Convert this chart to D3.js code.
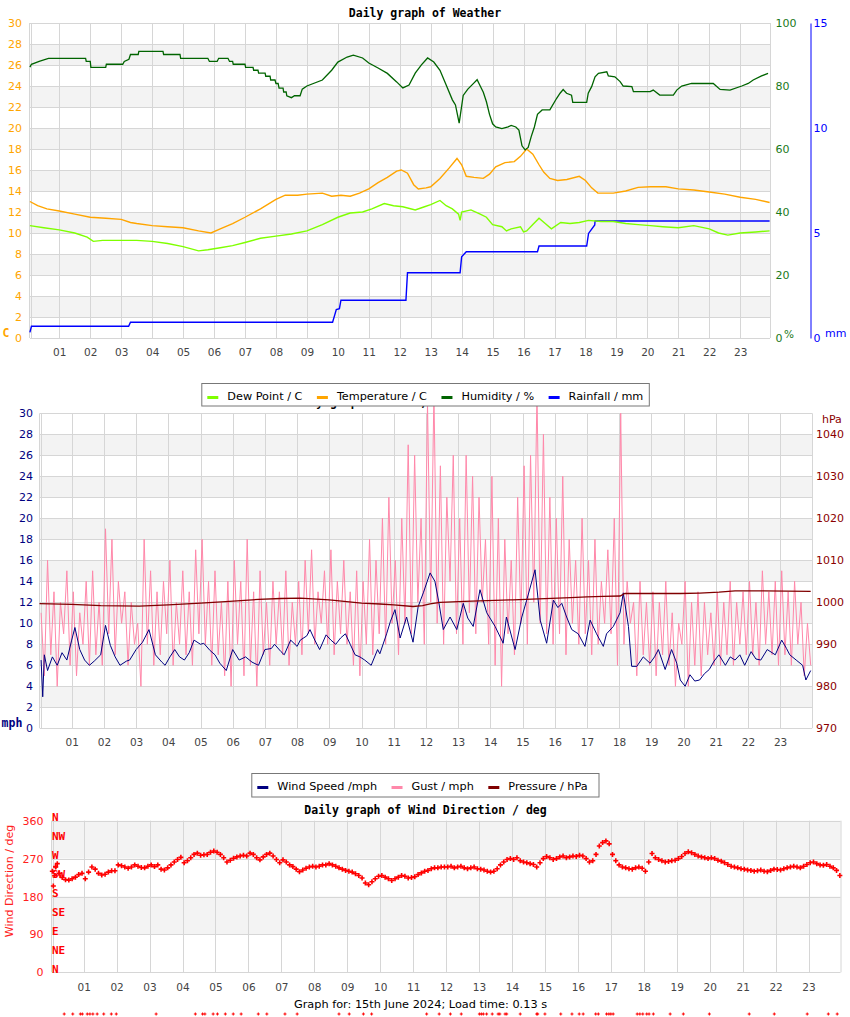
<!DOCTYPE html>
<html><head><meta charset="utf-8">
<script src="https://cdn.jsdelivr.net/npm/d3@7"></script>
<style>body{margin:0;background:#fff}svg{display:block}</style>
</head><body>
<script>
// ---------------- DATA ----------------
const hourTicks = ["01","02","03","04","05","06","07","08","09","10","11","12","13","14","15","16","17","18","19","20","21","22","23"];
const tempTicks = [0,2,4,6,8,10,12,14,16,18,20,22,24,26,28,30];
const humTicks = [0,20,40,60,80,100];
const rainTicks = [0,5,10,15];
const mphTicks = [0,2,4,6,8,10,12,14,16,18,20,22,24,26,28,30];
const hpaTicks = [970,980,990,1000,1010,1020,1030,1040];
const dirTicks = [0,90,180,270,360];
const compassLabels = ["N","NE","E","SE","S","SW","W","NW","N"];
const compassDeg = [0,45,90,135,180,225,270,315,360];

const temperature = [[0.05,13.0],[0.3,12.6],[0.6,12.3],[1.0,12.1],[1.5,11.8],[2.0,11.5],[2.5,11.4],[3.0,11.3],[3.3,11.0],[3.5,10.9],[4.0,10.7],[4.5,10.6],[5.0,10.5],[5.5,10.2],[5.9,10.0],[6.2,10.4],[6.6,10.9],[7.0,11.5],[7.5,12.3],[8.0,13.2],[8.3,13.6],[8.7,13.6],[9.0,13.7],[9.5,13.8],[9.8,13.5],[10.1,13.6],[10.4,13.5],[10.7,13.8],[11.0,14.2],[11.3,14.8],[11.6,15.3],[11.9,15.9],[12.05,16.0],[12.25,15.7],[12.45,14.6],[12.6,14.2],[12.85,14.3],[13.0,14.4],[13.3,15.2],[13.6,16.2],[13.85,17.1],[14.0,16.5],[14.15,15.4],[14.4,15.3],[14.7,15.2],[14.9,15.6],[15.1,16.3],[15.4,16.7],[15.7,16.8],[15.9,17.3],[16.1,18.0],[16.3,17.5],[16.5,16.5],[16.65,15.8],[16.85,15.2],[17.1,15.0],[17.4,15.1],[17.8,15.4],[18.0,15.0],[18.2,14.3],[18.4,13.8],[18.9,13.8],[19.3,14.0],[19.7,14.35],[20.1,14.4],[20.6,14.4],[21.0,14.2],[21.5,14.1],[22.0,13.9],[22.5,13.7],[23.0,13.4],[23.5,13.2],[23.95,12.9]];

const dewPoint = [[0.05,10.7],[0.5,10.5],[1.0,10.3],[1.5,10.0],[1.9,9.6],[2.1,9.2],[2.4,9.3],[3.0,9.3],[3.5,9.3],[4.0,9.2],[4.5,9.0],[5.0,8.7],[5.5,8.3],[5.8,8.4],[6.2,8.6],[6.6,8.8],[7.0,9.1],[7.5,9.5],[8.0,9.7],[8.5,9.9],[9.0,10.2],[9.5,10.8],[10.0,11.5],[10.4,11.9],[10.8,12.0],[11.1,12.3],[11.5,12.8],[11.8,12.6],[12.1,12.5],[12.5,12.2],[12.8,12.5],[13.0,12.7],[13.3,13.1],[13.5,12.6],[13.7,12.3],[13.9,11.8],[13.95,11.2],[14.0,12.0],[14.3,12.2],[14.6,11.8],[14.8,11.5],[15.0,10.8],[15.3,10.6],[15.45,10.2],[15.6,10.4],[15.9,10.6],[16.0,10.1],[16.1,10.2],[16.3,10.8],[16.5,11.4],[16.7,10.9],[16.9,10.4],[17.2,11.0],[17.5,10.9],[17.8,11.0],[18.1,11.2],[18.5,11.1],[18.9,11.1],[19.3,10.9],[19.7,10.8],[20.1,10.7],[20.5,10.6],[21.0,10.5],[21.5,10.7],[22.0,10.4],[22.3,10.0],[22.6,9.8],[23.0,10.0],[23.5,10.1],[23.95,10.2]];

const humidity = [[0.05,86],[0.1,86.9],[0.35,87.8],[0.65,88.8],[1.85,88.8],[1.87,87.8],[2.0,87.8],[2.02,85.9],[2.5,85.9],[2.52,86.9],[3.05,86.9],[3.1,87.8],[3.25,88.5],[3.3,90],[3.55,90],[3.57,91],[4.35,91],[4.37,90],[4.9,90],[4.92,88.8],[5.8,88.8],[5.85,87.8],[6.1,87.8],[6.15,88.8],[6.45,88.8],[6.5,87.8],[6.6,87.8],[6.62,86.9],[7.0,86.9],[7.02,85.9],[7.26,85.9],[7.28,85],[7.42,85],[7.44,84.1],[7.65,84.1],[7.67,83.1],[7.81,83.1],[7.83,81.9],[7.97,81.9],[8.0,80.8],[8.07,80.8],[8.1,79.3],[8.23,79.3],[8.25,78.1],[8.33,78.1],[8.35,76.9],[8.5,76.3],[8.6,76.9],[8.78,76.9],[8.85,79],[9.0,80],[9.5,81.9],[9.8,85],[10.0,87.6],[10.3,89.2],[10.5,89.8],[10.8,88.9],[11.0,87.3],[11.3,85.7],[11.6,84],[11.9,81.3],[12.1,79.4],[12.3,80.3],[12.5,84.1],[12.7,86.7],[12.9,88.9],[13.1,87.6],[13.3,85],[13.5,80.3],[13.7,75.6],[13.8,74],[13.92,68.2],[14.05,77],[14.2,79],[14.4,81],[14.5,82],[14.6,80],[14.7,78],[14.8,75],[14.9,71],[15.0,68],[15.1,67],[15.3,66.5],[15.5,67],[15.6,67.5],[15.75,67],[15.85,66],[15.95,61],[16.05,59.7],[16.15,60.5],[16.25,64],[16.35,67],[16.45,71],[16.6,72.4],[16.85,72.4],[17.07,76.1],[17.18,77.7],[17.28,78.9],[17.39,77.7],[17.55,77.1],[17.59,74.8],[18.04,74.8],[18.09,77.7],[18.2,79.8],[18.31,82.9],[18.42,84],[18.69,84.5],[18.74,83.2],[18.95,82.9],[19.12,81.4],[19.22,80],[19.5,79.8],[19.55,78.2],[20.09,78.2],[20.19,78.7],[20.4,77.1],[20.84,77.1],[20.95,78.7],[21.11,80],[21.43,80.8],[22.13,80.8],[22.35,78.9],[22.67,78.7],[23.05,80],[23.26,80.8],[23.42,81.9],[23.69,83.2],[23.9,84]];

const rainfall = [[0.05,0.27],[0.1,0.56],[3.24,0.56],[3.3,0.75],[9.83,0.75],[9.9,1.1],[9.95,1.35],[10.05,1.4],[10.1,1.8],[12.2,1.8],[12.25,3.11],[13.95,3.11],[14.0,3.87],[14.15,4.11],[16.45,4.11],[16.5,4.38],[18.04,4.38],[18.1,4.98],[18.3,5.38],[18.31,5.57],[23.95,5.57]];

const windSpeed = [[0.05,6.5],[0.1,3.0],[0.15,7.0],[0.25,5.5],[0.4,6.8],[0.55,6.0],[0.7,7.2],[0.85,6.5],[1.0,8.4],[1.1,9.6],[1.25,7.5],[1.4,6.5],[1.55,6.0],[1.7,6.4],[1.9,7.0],[2.05,9.8],[2.2,7.9],[2.35,6.8],[2.5,6.0],[2.7,6.4],[2.8,6.5],[3.0,7.5],[3.2,8.2],[3.4,9.4],[3.6,7.0],[3.8,6.3],[3.9,6.0],[4.05,6.8],[4.2,7.5],[4.35,6.8],[4.5,6.5],[4.65,7.2],[4.8,8.4],[5.0,8.0],[5.1,8.1],[5.3,7.4],[5.45,7.0],[5.6,6.2],[5.8,5.5],[6.0,7.5],[6.2,6.5],[6.4,6.8],[6.6,6.3],[6.8,6.0],[7.0,7.5],[7.2,7.6],[7.3,8.0],[7.5,7.3],[7.6,7.0],[7.8,8.4],[8.0,7.8],[8.1,8.4],[8.3,8.8],[8.4,9.4],[8.55,8.4],[8.7,7.5],[8.9,8.9],[9.05,8.4],[9.2,8.0],[9.35,8.6],[9.5,9.0],[9.65,8.0],[9.8,7.0],[9.95,6.8],[10.1,6.5],[10.3,6.0],[10.5,7.5],[10.57,7.1],[10.78,9.0],[10.9,10.2],[11.04,11.3],[11.2,8.6],[11.4,10.6],[11.6,8.2],[11.76,11.6],[11.92,12.9],[12.13,14.8],[12.28,14.0],[12.39,12.2],[12.54,9.4],[12.75,10.6],[12.96,9.4],[13.16,11.9],[13.3,10.5],[13.47,9.7],[13.68,13.2],[13.89,11.0],[14.15,9.7],[14.4,8.1],[14.5,10.6],[14.77,7.5],[14.98,10.6],[15.13,12.2],[15.39,15.1],[15.55,10.3],[15.75,8.1],[15.96,12.2],[16.1,11.5],[16.22,11.9],[16.37,10.6],[16.53,9.4],[16.73,9.0],[16.94,7.8],[17.1,10.3],[17.3,9.0],[17.51,7.8],[17.61,9.0],[17.82,9.7],[18.03,11.0],[18.13,12.9],[18.29,9.7],[18.39,5.9],[18.55,5.9],[18.75,6.8],[18.96,6.2],[19.1,6.8],[19.22,7.5],[19.43,5.6],[19.63,7.5],[19.79,6.2],[19.9,4.6],[20.05,4.0],[20.2,5.1],[20.35,4.5],[20.5,4.6],[20.65,5.2],[20.8,5.6],[20.95,6.4],[21.1,7.0],[21.3,6.0],[21.45,6.8],[21.6,6.5],[21.75,7.0],[21.9,6.0],[22.1,7.3],[22.25,6.6],[22.4,6.5],[22.6,7.5],[22.85,7.0],[23.05,8.4],[23.2,7.6],[23.3,7.0],[23.5,6.5],[23.7,6.0],[23.8,4.6],[23.95,5.5]];

// gust, one reading every 0.1 h starting 00:03
const gustStart = 0.05, gustStep = 0.1;
const gust = [
 11,5,16,7,13,4,12,9,15,6,
 13,5,11,8,14,6,15,7,12,6,
 19,9,18,7,14,10,13,6,12,8,
 10,4,18,8,15,6,13,7,14,9,
 16,6,12,8,15,7,13,6,17,9,
 18,8,14,6,15,7,12,5,14,4,
 16,8,14,5,18,6,13,4,15,7,
 12,6,14,8,13,7,15,6,12,8,
 14,7,16,9,17,8,13,10,15,8,
 17,7,14,9,16,8,13,6,15,5,
 14,8,18,7,16,9,20,8,22,10,
 16,7,20,10,27,9,26,12,20,8,
 31,12,32,10,25,8,22,14,26,9,
 20,8,26,11,24,9,22,12,18,8,
 24,6,20,4,18,9,16,7,22,10,
 25,8,26,12,32,10,28,9,22,8,
 20,9,24,7,18,10,16,8,20,9,
 16,7,18,8,14,10,17,9,20,6,
 30,8,14,10,12,5,14,7,12,6,
 13,5,12,7,14,6,11,4,10,8,
 14,4,12,6,13,5,12,7,11,6,
 13,6,12,7,14,6,12,8,13,7,
 14,7,12,6,15,8,13,7,14,6,
 15,7,13,6,14,8,12,5,10,6];

const pressure = [[0.0,999.7],[1.0,999.5],[1.9,999.2],[3.1,999.1],[4.0,999.4],[5.0,999.8],[5.9,1000.2],[6.8,1000.7],[7.5,1000.9],[8.1,1001.0],[9.0,1000.6],[10.0,999.8],[10.57,999.6],[11.0,999.4],[11.6,999.0],[11.9,999.2],[12.13,999.6],[12.44,1000.0],[13.2,1000.2],[13.9,1000.4],[14.7,1000.6],[15.5,1000.8],[16.5,1001.1],[17.0,1001.3],[17.5,1001.4],[18.03,1001.5],[18.18,1002.1],[19.0,1002.1],[19.9,1002.1],[20.5,1002.2],[21.1,1002.4],[21.6,1002.7],[22.5,1002.7],[23.95,1002.6]];

// wind direction, one reading every 0.1 h starting 00:03
const dirStart = 0.05, dirStep = 0.1;
const direction = [
 240,250,235,225,220,219,222,226,232,235,
 222,238,250,245,235,231,233,238,241,241,
 255,253,250,247,250,255,252,249,248,252,
 255,251,255,245,243,248,255,262,268,273,
 260,265,272,280,283,278,279,280,285,288,
 285,280,272,262,266,271,274,276,278,276,
 283,280,272,267,274,280,283,276,268,260,
 267,262,255,251,245,239,243,247,250,252,
 250,252,255,255,258,255,252,248,245,242,
 240,238,234,230,224,212,208,215,222,228,
 230,226,222,218,222,226,230,228,224,225,
 227,232,236,240,242,246,248,248,250,250,
 250,252,248,250,252,248,246,248,250,246,
 245,243,240,238,240,246,255,262,268,270,
 268,272,265,262,260,258,256,250,260,270,
 275,272,268,270,274,276,272,274,276,275,
 278,276,270,262,265,280,300,308,312,305,
 280,265,255,250,248,246,245,248,250,247,
 240,262,282,272,268,265,262,263,265,266,
 270,275,282,286,284,280,276,274,272,270,
 272,270,266,264,260,256,252,250,248,246,
 245,243,242,240,241,243,240,239,242,245,
 244,243,246,248,250,252,250,248,252,256,
 260,262,258,255,254,256,252,248,242,230];
const directionExtra = [[0.08,205],[0.15,251],[0.2,258],[0.12,230]];
const calmHours = [0.41,0.67,0.90,0.96,1.11,1.19,1.28,1.41,1.61,1.84,1.99,3.20,4.39,4.61,4.68,4.93,5.06,5.30,5.54,5.78,6.30,6.56,7.11,7.48,8.75,9.06,9.49,9.74,11.41,11.79,12.13,12.46,13.01,13.07,13.13,13.23,13.40,13.58,13.63,13.79,13.84,14.25,14.75,14.78,15.0,15.48,15.82,16.04,16.16,16.54,16.62,16.87,16.94,17.0,17.07,17.80,17.88,17.97,18.09,18.16,18.29,18.80,19.20,19.99,21.20,21.96,22.96,23.60,23.87];

const legend1 = [["Dew Point / C","#7fff00"],["Temperature / C","#ffa500"],["Humidity / %","#006400"],["Rainfall / mm","#0000ff"]];
const legend2 = [["Wind Speed /mph","#000080"],["Gust / mph","#ff88aa"],["Pressure / hPa","#800000"]];

// ---------------- DRAWING ----------------
const SANS = "DejaVu Sans, sans-serif", MONO = "DejaVu Sans Mono, monospace";
const GRID = "#d6d6d6", BAND = "#f3f3f3";
const svg = d3.select("body").append("svg").attr("width",850).attr("height",1017);
const hourVals = hourTicks.map(Number);

function frame(x, y, left, right, ticks){
  const g = svg.append("g");
  const top = y.range()[1], bottom = y.range()[0];
  const bands = ticks.map((v,i)=>[v,ticks[i+1]]).filter((d,i)=>i%2===1 && d[1]!==undefined);
  g.selectAll(null).data(bands).join("rect")
    .attr("x",left).attr("width",right-left)
    .attr("y",d=>y(d[1])).attr("height",d=>y(d[0])-y(d[1])).attr("fill",BAND);
  g.selectAll(null).data(ticks).join("line")
    .attr("x1",left).attr("x2",right).attr("y1",d=>Math.round(y(d))+0.5).attr("y2",d=>Math.round(y(d))+0.5)
    .attr("stroke",GRID);
  g.selectAll(null).data(hourVals).join("line")
    .attr("x1",d=>Math.round(x(d))+0.5).attr("x2",d=>Math.round(x(d))+0.5)
    .attr("y1",top).attr("y2",bottom).attr("stroke",GRID);
  g.append("line").attr("x1",left-0.5).attr("x2",left-0.5).attr("y1",top).attr("y2",bottom).attr("stroke",GRID);
  g.append("line").attr("x1",left+1.5).attr("x2",left+1.5).attr("y1",top).attr("y2",bottom).attr("stroke",GRID);
  g.append("line").attr("x1",right+0.5).attr("x2",right+0.5).attr("y1",top).attr("y2",bottom).attr("stroke",GRID);
  return g;
}
function xAxis(x, yPos){
  const g = svg.append("g").attr("transform",`translate(0,${yPos})`)
    .call(d3.axisBottom(x).tickValues(hourVals).tickFormat((d,i)=>hourTicks[i]).tickSize(0).tickPadding(0));
  g.select(".domain").remove();
  g.selectAll("text").attr("fill","#444").style("font-family",SANS).style("font-size","10.5px");
}
function yAxis(axis, xPos, color, keepDomain){
  const g = svg.append("g").attr("transform",`translate(${xPos},0)`).call(axis.tickFormat(d3.format("d")));
  if(!keepDomain) g.select(".domain").remove(); else g.select(".domain").attr("stroke",color);
  g.selectAll(".tick line").remove();
  g.selectAll("text").attr("fill",color).style("font-family",SANS).style("font-size","11px");
  return g;
}
function txt(x,y,s,opt){
  const t = svg.append("text").attr("x",x).attr("y",y).text(s)
    .style("font-family",opt.font||SANS).style("font-size",(opt.size||11)+"px")
    .attr("fill",opt.fill||"#000").attr("text-anchor",opt.anchor||"start")
    .attr("dominant-baseline","central");
  if(opt.bold) t.style("font-weight","bold");
  return t;
}
function legend(items, x0, yMid, boxRight, boxTop, boxH){
  const g = svg.append("g");
  const box = g.append("rect").attr("y",boxTop).attr("height",boxH).attr("fill","#fff").attr("stroke","#777");
  let x = x0;
  items.forEach(([name,col])=>{
    g.append("line").attr("x1",x).attr("x2",x+11).attr("y1",yMid+1).attr("y2",yMid+1).attr("stroke",col).attr("stroke-width",3);
    const t = g.append("text").attr("x",x+20).attr("y",yMid).text(name).attr("dominant-baseline","central")
      .style("font-family",SANS).style("font-size","11.25px").attr("fill","#000");
    x = x + 20 + t.node().getComputedTextLength() + 14.5;
  });
  box.attr("x",x0-5.5).attr("width",boxRight-(x0-5.5));
}

// ===== Chart 1: weather =====
const x1 = d3.scaleLinear().domain([0,24]).range([28.35,771.15]);
const yT = d3.scaleLinear().domain([0,30]).range([338,23]);
const yH = d3.scaleLinear().domain([0,100]).range([338,23]);
const yR = d3.scaleLinear().domain([0,15]).range([338,23]);
frame(x1, yT, 30, 770, tempTicks);
const c1 = svg.append("g");
const line1 = (y)=>d3.line().x(d=>x1(d[0])).y(d=>y(d[1]));
c1.append("path").datum(rainfall).attr("d",line1(yR)).attr("fill","none").attr("stroke","#0000ff").attr("stroke-width",1.4);
c1.append("path").datum(dewPoint).attr("d",line1(yT)).attr("fill","none").attr("stroke","#7fff00").attr("stroke-width",1.4);
c1.append("path").datum(temperature).attr("d",line1(yT)).attr("fill","none").attr("stroke","#ffa500").attr("stroke-width",1.4);
c1.append("path").datum(humidity).attr("d",line1(yH)).attr("fill","none").attr("stroke","#006400").attr("stroke-width",1.3);
xAxis(x1, 349);
yAxis(d3.axisLeft(yT).tickValues(tempTicks).tickSize(0).tickPadding(0), 22, "#ffa500");
yAxis(d3.axisRight(yH).tickValues(humTicks).tickSize(0).tickPadding(0), 775.5, "#1a7a1a");
yAxis(d3.axisRight(yR).tickValues(rainTicks).tickSize(0).tickSizeOuter(0).tickPadding(3), 810.5, "#0000ff", true);
txt(6,333,"C",{font:MONO,bold:true,fill:"#ffa500",size:11.5,anchor:"middle"});
txt(789,333.5,"%",{fill:"#1a7a1a",size:10.5,anchor:"middle"});
txt(825,333.5,"mm",{fill:"#0000ff",size:11});
txt(425,13,"Daily graph of Weather",{font:MONO,bold:true,size:11.5,anchor:"middle"});

// ===== Chart 2: wind =====
const x2 = d3.scaleLinear().domain([0,24]).range([39.5,812.3]);
const yW = d3.scaleLinear().domain([0,30]).range([728.3,413.3]);
const yP = d3.scaleLinear().domain([970,1045]).range([728.3,413.3]);
frame(x2, yW, 40, 812, mphTicks);
txt(420,401.5,"Daily graph of Wind, Gust and Pressure",{font:MONO,bold:true,size:11.5,anchor:"middle"});
const c2 = svg.append("g");
c2.append("path").datum(gust).attr("d",d3.line().x((d,i)=>x2(gustStart+i*gustStep)).y(d=>yW(d)))
  .attr("fill","none").attr("stroke","#ff88aa").attr("stroke-width",1);
c2.append("path").datum(windSpeed).attr("d",d3.line().x(d=>x2(d[0])).y(d=>yW(d[1])))
  .attr("fill","none").attr("stroke","#000080").attr("stroke-width",1);
c2.append("path").datum(pressure).attr("d",d3.line().x(d=>x2(d[0])).y(d=>yP(d[1])))
  .attr("fill","none").attr("stroke","#800000").attr("stroke-width",1.3);
xAxis(x2, 739);
yAxis(d3.axisLeft(yW).tickValues(mphTicks).tickSize(0).tickPadding(0), 33, "#000080");
yAxis(d3.axisRight(yP).tickValues(hpaTicks).tickSize(0).tickPadding(0), 816, "#8b0000");
txt(12,723,"mph",{font:MONO,bold:true,fill:"#000080",size:11.5,anchor:"middle"});
txt(822,419,"hPa",{fill:"#8b0000",size:11});
legend(legend1, 207.3, 396.5, 649.3, 383.5, 22.5);

// ===== Chart 3: wind direction =====
const x3 = d3.scaleLinear().domain([0,24]).range([50.7,841.5]);
const yD = d3.scaleLinear().domain([0,360]).range([972.3,820.7]);
frame(x3, yD, 52, 840.5, dirTicks);
legend(legend2, 257.3, 786.5, 599, 773.5, 23.5);
txt(425.5,810,"Daily graph of Wind Direction / deg",{font:MONO,bold:true,size:11.5,anchor:"middle"});
const plus = "M-2.5,0H2.5M0,-2.5V2.5";
const dirPts = direction.map((d,i)=>[dirStart+i*dirStep,d]).concat(directionExtra);
svg.append("g").selectAll(null).data(dirPts).join("path")
  .attr("transform",d=>`translate(${x3(d[0])},${yD(d[1])})`).attr("d",plus)
  .attr("stroke","#ff0000").attr("stroke-width",1.6).attr("fill","none");
svg.append("g").selectAll(null).data(calmHours).join("path")
  .attr("transform",d=>`translate(${x3(d)},${yD(0)+41.7})`).attr("d","M-1.5,0H1.5M0,-1.5V1.5")
  .attr("stroke","#ff0000").attr("stroke-width",1).attr("fill","none");
xAxis(x3, 983.5);
yAxis(d3.axisLeft(yD).tickValues(dirTicks).tickSize(0).tickPadding(0), 43.5, "#ff2020");
svg.append("g").selectAll(null).data(compassLabels).join("text")
  .attr("x",52).attr("y",(d,i)=>yD(compassDeg[i])-3).text(d=>d)
  .attr("dominant-baseline","central").style("font-family",MONO).style("font-weight","bold").style("font-size","11px")
  .attr("fill","#ff0000");
txt(0,0,"Wind Direction / deg",{fill:"#ff2020",size:11,anchor:"middle"})
  .attr("transform","translate(9,881) rotate(-90)");
txt(420.5,1004.5,"Graph for: 15th June 2024; Load time: 0.13 s",{size:11.3,anchor:"middle"});
</script>
</body></html>
